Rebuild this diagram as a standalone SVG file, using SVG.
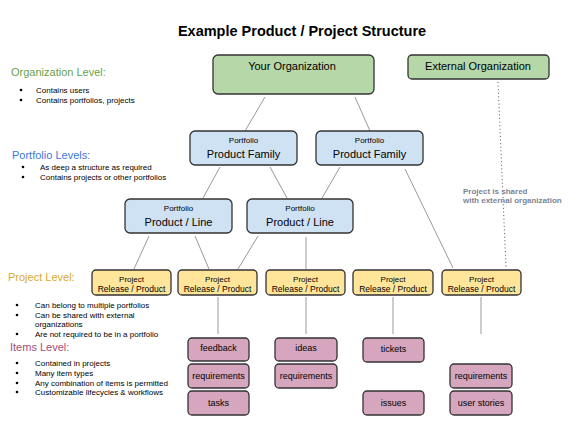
<svg xmlns="http://www.w3.org/2000/svg" width="580" height="433" viewBox="0 0 580 433">
<style>
text{font-family:"Liberation Sans",Arial,sans-serif;fill:#000}
.title{font-size:14.5px;font-weight:bold}
.box{stroke:#333;stroke-width:1.3}
.org{fill:#b6d7a8}
.pf{fill:#cfe2f3}
.pj{fill:#ffe599}
.it{fill:#d5a6bd}
.big{font-size:11px;text-anchor:middle}
.sm{font-size:8px;text-anchor:middle}
.rel{font-size:8.5px;text-anchor:middle}
.itx{font-size:9px;text-anchor:middle}
.bl{font-size:8px}
.h{font-size:11px}
.note{font-size:8px;font-weight:bold;fill:#7b8594}
.con line{stroke:#999;stroke-width:1}
.dot{fill:#000}
</style>
<text class="title" x="302" y="36" text-anchor="middle">Example Product / Project Structure</text>

<g id="legend">
<text class="h" x="11" y="76" style="fill:#6a9f45">Organization Level:</text>
<circle class="dot" cx="21" cy="90" r="1.3"/><text class="bl" x="36" y="93">Contains users</text>
<circle class="dot" cx="21" cy="100" r="1.3"/><text class="bl" x="36" y="103">Contains portfolios, projects</text>
<text class="h" x="12" y="159" style="fill:#3c78d8">Portfolio Levels:</text>
<circle class="dot" cx="23" cy="167" r="1.3"/><text class="bl" x="40" y="170">As deep a structure as required</text>
<circle class="dot" cx="23" cy="177" r="1.3"/><text class="bl" x="40" y="180">Contains projects or other portfolios</text>
<text class="h" x="8" y="281" style="fill:#d9a92a">Project Level:</text>
<circle class="dot" cx="17" cy="305" r="1.3"/><text class="bl" x="35" y="308">Can belong to multiple portfolios</text>
<circle class="dot" cx="17" cy="315" r="1.3"/><text class="bl" x="35" y="318">Can be shared with external</text>
<text class="bl" x="35" y="327">organizations</text>
<circle class="dot" cx="17" cy="334" r="1.3"/><text class="bl" x="35" y="337">Are not required to be in a portfolio</text>
<text class="h" x="10" y="351" style="fill:#a64d79">Items Level:</text>
<circle class="dot" cx="17" cy="363" r="1.3"/><text class="bl" x="35" y="366">Contained in projects</text>
<circle class="dot" cx="17" cy="373" r="1.3"/><text class="bl" x="35" y="376">Many item types</text>
<circle class="dot" cx="17" cy="383" r="1.3"/><text class="bl" x="35" y="386">Any combination of items is permitted</text>
<circle class="dot" cx="17" cy="392" r="1.3"/><text class="bl" x="35" y="395">Customizable lifecycles &amp; workflows</text>
</g>

<g class="con" id="connectors">
<line x1="265" y1="97" x2="245" y2="131"/>
<line x1="355" y1="97" x2="370" y2="131"/>
<line x1="220" y1="167" x2="203" y2="198"/>
<line x1="270" y1="167" x2="287" y2="198"/>
<line x1="340" y1="167" x2="322" y2="198"/>
<line x1="405" y1="169" x2="453" y2="268"/>
<line x1="149" y1="236" x2="134" y2="269"/>
<line x1="195" y1="236" x2="209" y2="269"/>
<line x1="258" y1="236" x2="238" y2="269"/>
<line x1="306" y1="237" x2="306" y2="269"/>
<line x1="218" y1="297" x2="218" y2="334"/>
<line x1="306" y1="297" x2="306" y2="334"/>
<line x1="393" y1="297" x2="393" y2="334"/>
<line x1="481" y1="297" x2="481" y2="334"/>
<line x1="498" y1="82" x2="506" y2="267" style="stroke:#555;stroke-dasharray:1 2.6"/>
</g>
<text class="note" x="463" y="194">Project is shared</text>
<text class="note" x="463" y="203">with external organization</text>

<g id="your-org"><rect class="box org" x="213" y="55" width="161" height="39" rx="5"/><text class="big" x="292" y="70">Your Organization</text></g>
<g id="ext-org"><rect class="box org" x="408" y="55" width="141" height="24" rx="4"/><text class="big" x="478" y="70">External Organization</text></g>

<g id="pf1"><rect class="box pf" x="190" y="131" width="107" height="34" rx="5"/><text class="sm" x="243.5" y="143">Portfolio</text><text class="big" x="243.5" y="158">Product Family</text></g>
<g id="pf2"><rect class="box pf" x="316" y="131" width="107" height="34" rx="5"/><text class="sm" x="369.5" y="143">Portfolio</text><text class="big" x="369.5" y="158">Product Family</text></g>
<g id="pl1"><rect class="box pf" x="125" y="199" width="107" height="34" rx="5"/><text class="sm" x="178.5" y="211">Portfolio</text><text class="big" x="178.5" y="226">Product / Line</text></g>
<g id="pl2"><rect class="box pf" x="247" y="199" width="106" height="34" rx="5"/><text class="sm" x="300" y="211">Portfolio</text><text class="big" x="300" y="226">Product / Line</text></g>

<g id="pj1"><rect class="box pj" x="92" y="270" width="79" height="25" rx="4"/><text class="sm" x="131.5" y="282">Project</text><text class="rel" x="131.5" y="292">Release / Product</text></g>
<g id="pj2"><rect class="box pj" x="178" y="270" width="79" height="25" rx="4"/><text class="sm" x="217.5" y="282">Project</text><text class="rel" x="217.5" y="292">Release / Product</text></g>
<g id="pj3"><rect class="box pj" x="266" y="270" width="79" height="25" rx="4"/><text class="sm" x="305.5" y="282">Project</text><text class="rel" x="305.5" y="292">Release / Product</text></g>
<g id="pj4"><rect class="box pj" x="353" y="270" width="80" height="25" rx="4"/><text class="sm" x="393" y="282">Project</text><text class="rel" x="393" y="292">Release / Product</text></g>
<g id="pj5"><rect class="box pj" x="442" y="270" width="79" height="25" rx="4"/><text class="sm" x="481.5" y="282">Project</text><text class="rel" x="481.5" y="292">Release / Product</text></g>

<g id="it-feedback"><rect class="box it" x="188" y="338" width="61" height="23" rx="4"/><text class="itx" x="218.5" y="351">feedback</text></g>
<g id="it-req1"><rect class="box it" x="188" y="364" width="61" height="24" rx="4"/><text class="itx" x="218.5" y="379">requirements</text></g>
<g id="it-tasks"><rect class="box it" x="188" y="391" width="61" height="24" rx="4"/><text class="itx" x="218.5" y="406">tasks</text></g>
<g id="it-ideas"><rect class="box it" x="275" y="338" width="62" height="23" rx="4"/><text class="itx" x="306" y="351">ideas</text></g>
<g id="it-req2"><rect class="box it" x="275" y="364" width="62" height="24" rx="4"/><text class="itx" x="306" y="379">requirements</text></g>
<g id="it-tickets"><rect class="box it" x="363" y="338" width="61" height="24" rx="4"/><text class="itx" x="393.5" y="352">tickets</text></g>
<g id="it-issues"><rect class="box it" x="363" y="391" width="61" height="24" rx="4"/><text class="itx" x="393.5" y="406">issues</text></g>
<g id="it-req3"><rect class="box it" x="450" y="364" width="62" height="24" rx="4"/><text class="itx" x="481" y="379">requirements</text></g>
<g id="it-stories"><rect class="box it" x="450" y="391" width="62" height="24" rx="4"/><text class="itx" x="481" y="406">user stories</text></g>
</svg>
